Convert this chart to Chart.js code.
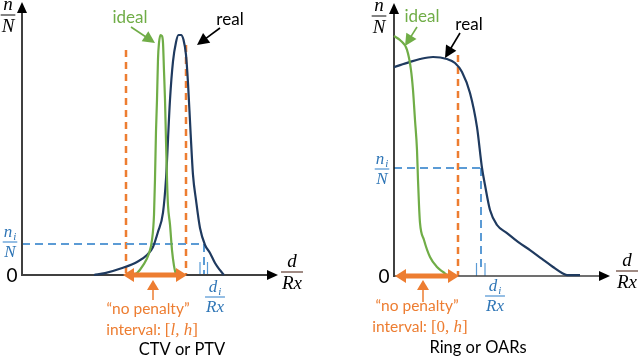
<!DOCTYPE html>
<html>
<head>
<meta charset="utf-8">
<script src="https://cdn.jsdelivr.net/npm/chart.js@4.4.1/dist/chart.umd.min.js"></script>
<style>
  body { margin: 0; background: #fff; }
  #wrap { position: relative; width: 640px; height: 357px; }
  canvas { position: absolute; top: 0; }
</style>
</head>
<body>
<div id="wrap">
  <canvas id="ctvChart" width="320" height="357" style="left:0"></canvas>
  <canvas id="ringChart" width="320" height="357" style="left:320px"></canvas>
</div>
<script>
/* ── data: x in dose units (0..100), y = n/N (0..1) ── */
// CTV / PTV panel
const ctvRealX  = [28.8, 33.2, 40.4, 46, 50, 52.4, 54.4, 56.4, 57.6, 59.2, 60.4, 61.6, 62.6, 63.6, 64.6, 65.6, 66.4, 67.4, 68.4, 69.6, 71.2, 73.2, 75.2, 77.2, 79.2, 80.8];
const ctvRealY  = [0, 0.008, 0.03, 0.054, 0.083, 0.117, 0.18, 0.26, 0.40, 0.73, 0.89, 0.97, 1.0, 1.0, 0.98, 0.917, 0.80, 0.60, 0.417, 0.3125, 0.196, 0.125, 0.092, 0.05, 0.02, 0];
const ctvIdealX = [44.4, 46, 48.4, 50.8, 52, 52.8, 53.2, 53.6, 54, 54.4, 54.8, 55.4, 56, 56.4, 56.8, 57.2, 57.6, 58, 58.4, 59.2, 60, 60.8, 61.6];
const ctvIdealY = [0, 0.008, 0.04, 0.09, 0.146, 0.25, 0.40, 0.60, 0.73, 0.9, 0.967, 1.0, 0.996, 0.967, 0.85, 0.73, 0.56, 0.40, 0.29, 0.21, 0.104, 0.038, 0];
const ctvBand    = [41.6, 65.6];     // l, h
const ctvBandTop = [0.9375, 0.958];
const ctvNi = 0.129;
const ctvDi = 72.8;

// Ring / OARs panel
const ringRealX  = [0, 8, 13, 19.5, 26.5, 30.5, 34, 38, 41.5, 44, 45.5, 48, 51.5, 56.5, 62, 68, 74, 79.5, 84, 86.5, 93];
const ringRealY  = [0.87, 0.892, 0.904, 0.9125, 0.904, 0.8875, 0.85, 0.7625, 0.62, 0.45, 0.379, 0.275, 0.2125, 0.179, 0.142, 0.108, 0.071, 0.0375, 0.0125, 0.004, 0.004];
const ringIdealX = [0, 3, 6.5, 8.5, 9.5, 10.5, 11.5, 12, 12.5, 13, 15, 18, 21.5, 24.5, 26.5];
const ringIdealY = [1.0, 0.983, 0.942, 0.858, 0.775, 0.65, 0.525, 0.4, 0.296, 0.221, 0.15, 0.079, 0.0375, 0.017, 0.004];
const ringBand    = [0, 32];          // 0, h
const ringBandTop = 0.921;
const ringNi = 0.45;
const ringDi = 43.5;

const ORANGE = '#ed7d31', GREEN = '#70ad47', NAVY = '#1f3a5f';
const BLUE = '#5b9bd5', BLUE_TXT = '#2e75b6', AXIS = '#404040', BROWN = '#6d4c41';
const SANS = 'Lato', SERIF = '"Liberation Serif"';

function pts(xs, ys) { return xs.map((v, i) => ({ x: v, y: ys[i] })); }

/* ── drawing helpers ── */
function line(ctx, x1, y1, x2, y2, color, w, dash) {
  ctx.save();
  ctx.strokeStyle = color; ctx.lineWidth = w; ctx.setLineDash(dash || []);
  ctx.beginPath(); ctx.moveTo(x1, y1); ctx.lineTo(x2, y2); ctx.stroke();
  ctx.restore();
}
function head(ctx, tx, ty, fx, fy, len, half, color) {
  const a = Math.atan2(ty - fy, tx - fx);
  const bx = tx - len * Math.cos(a), by = ty - len * Math.sin(a);
  ctx.save();
  ctx.fillStyle = color;
  ctx.beginPath();
  ctx.moveTo(tx, ty);
  ctx.lineTo(bx + half * Math.sin(a), by - half * Math.cos(a));
  ctx.lineTo(bx - half * Math.sin(a), by + half * Math.cos(a));
  ctx.closePath(); ctx.fill();
  ctx.restore();
}
function pointer(ctx, fx, fy, tx, ty, color) {
  const a = Math.atan2(ty - fy, tx - fx);
  line(ctx, fx, fy, tx - 9 * Math.cos(a), ty - 9 * Math.sin(a), color, 1.6);
  head(ctx, tx, ty, fx, fy, 12, 6, color);
}
function text(ctx, s, x, y, color, font, align) {
  ctx.save();
  ctx.fillStyle = color; ctx.font = font;
  ctx.textAlign = align || 'center'; ctx.textBaseline = 'alphabetic';
  ctx.fillText(s, x, y);
  ctx.restore();
}
function mixed(ctx, cx, y, parts, color) {
  ctx.save();
  ctx.fillStyle = color; ctx.textBaseline = 'alphabetic'; ctx.textAlign = 'left';
  let total = 0;
  parts.forEach(p => { ctx.font = p.f; total += ctx.measureText(p.t).width; });
  let x = cx - total / 2;
  parts.forEach(p => { ctx.font = p.f; ctx.fillText(p.t, x, y); x += ctx.measureText(p.t).width; });
  ctx.restore();
}
// fraction: top (with optional subscript) over bottom
function frac(ctx, cx, barY, top, sub, bottom, color, barColor, size) {
  ctx.save();
  ctx.fillStyle = color; ctx.textBaseline = 'alphabetic'; ctx.textAlign = 'left';
  const main = `italic ${size}px ${SERIF}`, small = `italic ${Math.round(size * 0.62)}px ${SERIF}`;
  ctx.font = main; const tw = ctx.measureText(top).width;
  ctx.font = small; const sw = sub ? ctx.measureText(sub).width + 1 : 0;
  ctx.font = main; const bw = ctx.measureText(bottom).width;
  const topW = tw + sw;
  ctx.font = main;
  ctx.fillText(top, cx - topW / 2, barY - 5);
  if (sub) { ctx.font = small; ctx.fillText(sub, cx - topW / 2 + tw + 1, barY - 2); }
  ctx.font = main;
  ctx.fillText(bottom, cx - bw / 2, barY + size * 0.9);
  const w = Math.max(topW, bw) + 2;
  line(ctx, cx - w / 2, barY, cx + w / 2, barY, barColor, 1.3);
  ctx.restore();
}
function doubleArrow(ctx, x1, x2, y) {
  line(ctx, x1 + 8, y, x2 - 8, y, ORANGE, 5);
  head(ctx, x1, y, x2, y, 11, 7, ORANGE);
  head(ctx, x2, y, x1, y, 11, 7, ORANGE);
}
function upArrow(ctx, x, tipY, bottomY) {
  line(ctx, x, tipY + 8, x, bottomY, ORANGE, 1.5);
  head(ctx, x, tipY, x, bottomY, 10, 6, ORANGE);
}

/* ── CTV / PTV decorations ── */
const ctvDecor = {
  id: 'ctvDecor',
  beforeDatasetsDraw(chart) {
    const ctx = chart.ctx, xs = chart.scales.x, ys = chart.scales.y, a = chart.chartArea;
    const y0 = ys.getPixelForValue(0);
    ctvBand.forEach((v, i) => {
      const px = xs.getPixelForValue(v);
      line(ctx, px, ys.getPixelForValue(ctvBandTop[i]), px, y0, ORANGE, 2.5, [7, 5]);
    });
    const niY = ys.getPixelForValue(ctvNi), diX = xs.getPixelForValue(ctvDi);
    line(ctx, a.left, niY, diX, niY, BLUE, 2, [8, 5]);
    line(ctx, diX, niY, diX, y0, BLUE, 2, [8, 5]);
    line(ctx, diX - 4, y0 - 13, diX - 4, y0, BLUE, 1.2);
    line(ctx, diX + 3.5, y0 - 13, diX + 3.5, y0, BLUE, 1.2);
    // axes
    line(ctx, a.left, y0 + 1, a.left, 12, AXIS, 2);
    head(ctx, a.left, 2, a.left, 20, 11, 5, '#000');
    line(ctx, a.left - 1, y0, a.right, y0, AXIS, 2);
    head(ctx, a.right + 6, y0, a.left, y0, 11, 5, '#000');
  },
  afterDatasetsDraw(chart) {
    const ctx = chart.ctx, xs = chart.scales.x, ys = chart.scales.y;
    const y0 = ys.getPixelForValue(0);
    doubleArrow(ctx, xs.getPixelForValue(ctvBand[0]) - 3, xs.getPixelForValue(ctvBand[1]) + 1, y0);
    upArrow(ctx, xs.getPixelForValue(52.4), y0 + 5, y0 + 25);
    text(ctx, '\u201Cno penalty\u201D', 148, 314, ORANGE, `15.5px ${SANS}`);
    mixed(ctx, 152, 335, [
      { t: 'interval: ', f: `15.5px ${SANS}` },
      { t: '[', f: `17px ${SERIF}` },
      { t: 'l, h', f: `italic 17px ${SERIF}` },
      { t: ']', f: `17px ${SERIF}` }
    ], ORANGE);
    text(ctx, 'CTV or PTV', 182, 355, '#000', `16.5px ${SANS}`);
    text(ctx, '0', 12, 282, '#000', `19px ${SANS}`);
    frac(ctx, 8, 15, 'n', '', 'N', '#000', AXIS, 19);
    frac(ctx, 10, 242, 'n', 'i', 'N', BLUE_TXT, BLUE, 17);
    frac(ctx, 292, 272, 'd', '', 'Rx', '#000', BROWN, 19);
    frac(ctx, 215, 297, 'd', 'i', 'Rx', BLUE_TXT, BLUE, 17);
    text(ctx, 'ideal', 130, 23, GREEN, `17px ${SANS}`);
    text(ctx, 'real', 230, 25, '#000', `17px ${SANS}`);
    pointer(ctx, 131, 27, 155, 43, GREEN);
    pointer(ctx, 220, 28, 197, 45, '#000');
  }
};

/* ── Ring / OARs decorations ── */
const ringDecor = {
  id: 'ringDecor',
  beforeDatasetsDraw(chart) {
    const ctx = chart.ctx, xs = chart.scales.x, ys = chart.scales.y, a = chart.chartArea;
    const y0 = ys.getPixelForValue(0);
    const hx = xs.getPixelForValue(ringBand[1]);
    line(ctx, hx, ys.getPixelForValue(ringBandTop), hx, y0, ORANGE, 2.5, [7, 5]);
    const niY = ys.getPixelForValue(ringNi), diX = xs.getPixelForValue(ringDi);
    line(ctx, a.left, niY, diX, niY, BLUE, 2, [8, 5]);
    line(ctx, diX, niY, diX, y0 - 6, BLUE, 2, [8, 5]);
    line(ctx, diX - 4.5, y0 - 13, diX - 4.5, y0, BLUE, 1.2);
    line(ctx, diX + 4, y0 - 13, diX + 4, y0, BLUE, 1.2);
    // axes
    line(ctx, a.left, y0 + 1, a.left, 12, '#111', 1.6);
    head(ctx, a.left, 3, a.left, 20, 11, 5, '#000');
    line(ctx, a.left, y0, 280, y0, AXIS, 1.6);
    head(ctx, 290, y0, a.left, y0, 11, 5, '#000');
  },
  afterDatasetsDraw(chart) {
    const ctx = chart.ctx, xs = chart.scales.x, ys = chart.scales.y;
    const y0 = ys.getPixelForValue(0);
    doubleArrow(ctx, xs.getPixelForValue(ringBand[0]) + 1, xs.getPixelForValue(ringBand[1]) + 1, y0);
    upArrow(ctx, xs.getPixelForValue(14.5), y0 + 4, y0 + 26);
    text(ctx, '\u201Cno penalty\u201D', 97, 311, ORANGE, `15.5px ${SANS}`);
    mixed(ctx, 100, 332, [
      { t: 'interval: ', f: `15.5px ${SANS}` },
      { t: '[', f: `17px ${SERIF}` },
      { t: '0, ', f: `17px ${SERIF}` },
      { t: 'h', f: `italic 17px ${SERIF}` },
      { t: ']', f: `17px ${SERIF}` }
    ], ORANGE);
    text(ctx, 'Ring or OARs', 158, 353, '#000', `16.5px ${SANS}`);
    text(ctx, '0', 64, 283, '#000', `19px ${SANS}`);
    frac(ctx, 59, 16, 'n', '', 'N', '#000', AXIS, 19);
    frac(ctx, 62, 169, 'n', 'i', 'N', BLUE_TXT, BLUE, 17);
    frac(ctx, 307, 271, 'd', '', 'Rx', '#000', BROWN, 19);
    frac(ctx, 175, 296, 'd', 'i', 'Rx', BLUE_TXT, BLUE, 17);
    text(ctx, 'ideal', 102, 22, GREEN, `17px ${SANS}`);
    text(ctx, 'real', 149, 30, '#000', `17px ${SANS}`);
    pointer(ctx, 97, 27, 85, 46, GREEN);
    pointer(ctx, 140, 33, 125, 58, '#000');
  }
};

function baseOptions(padding) {
  return {
    responsive: false,
    animation: false,
    devicePixelRatio: 1,
    layout: { padding: padding },
    plugins: { legend: { display: false }, tooltip: { enabled: false } },
    scales: {
      x: { type: 'linear', display: false, min: 0, max: 100 },
      y: { display: false, min: 0, max: 1 }
    },
    elements: {
      point: { radius: 0 },
      line: { borderWidth: 2.2, cubicInterpolationMode: 'monotone' }
    }
  };
}

new Chart(document.getElementById('ctvChart'), {
  type: 'line',
  data: {
    datasets: [
      { label: 'ideal', data: pts(ctvIdealX, ctvIdealY), borderColor: GREEN, clip: false },
      { label: 'real', data: pts(ctvRealX, ctvRealY), borderColor: NAVY, clip: false }
    ]
  },
  options: baseOptions({ left: 22, right: 48, top: 35, bottom: 82 }),
  plugins: [ctvDecor]
});

new Chart(document.getElementById('ringChart'), {
  type: 'line',
  data: {
    datasets: [
      { label: 'ideal', data: pts(ringIdealX, ringIdealY), borderColor: GREEN, clip: false },
      { label: 'real', data: pts(ringRealX, ringRealY), borderColor: NAVY, clip: false }
    ]
  },
  options: baseOptions({ left: 74, right: 46, top: 36, bottom: 81 }),
  plugins: [ringDecor]
});
</script>
</body>
</html>
